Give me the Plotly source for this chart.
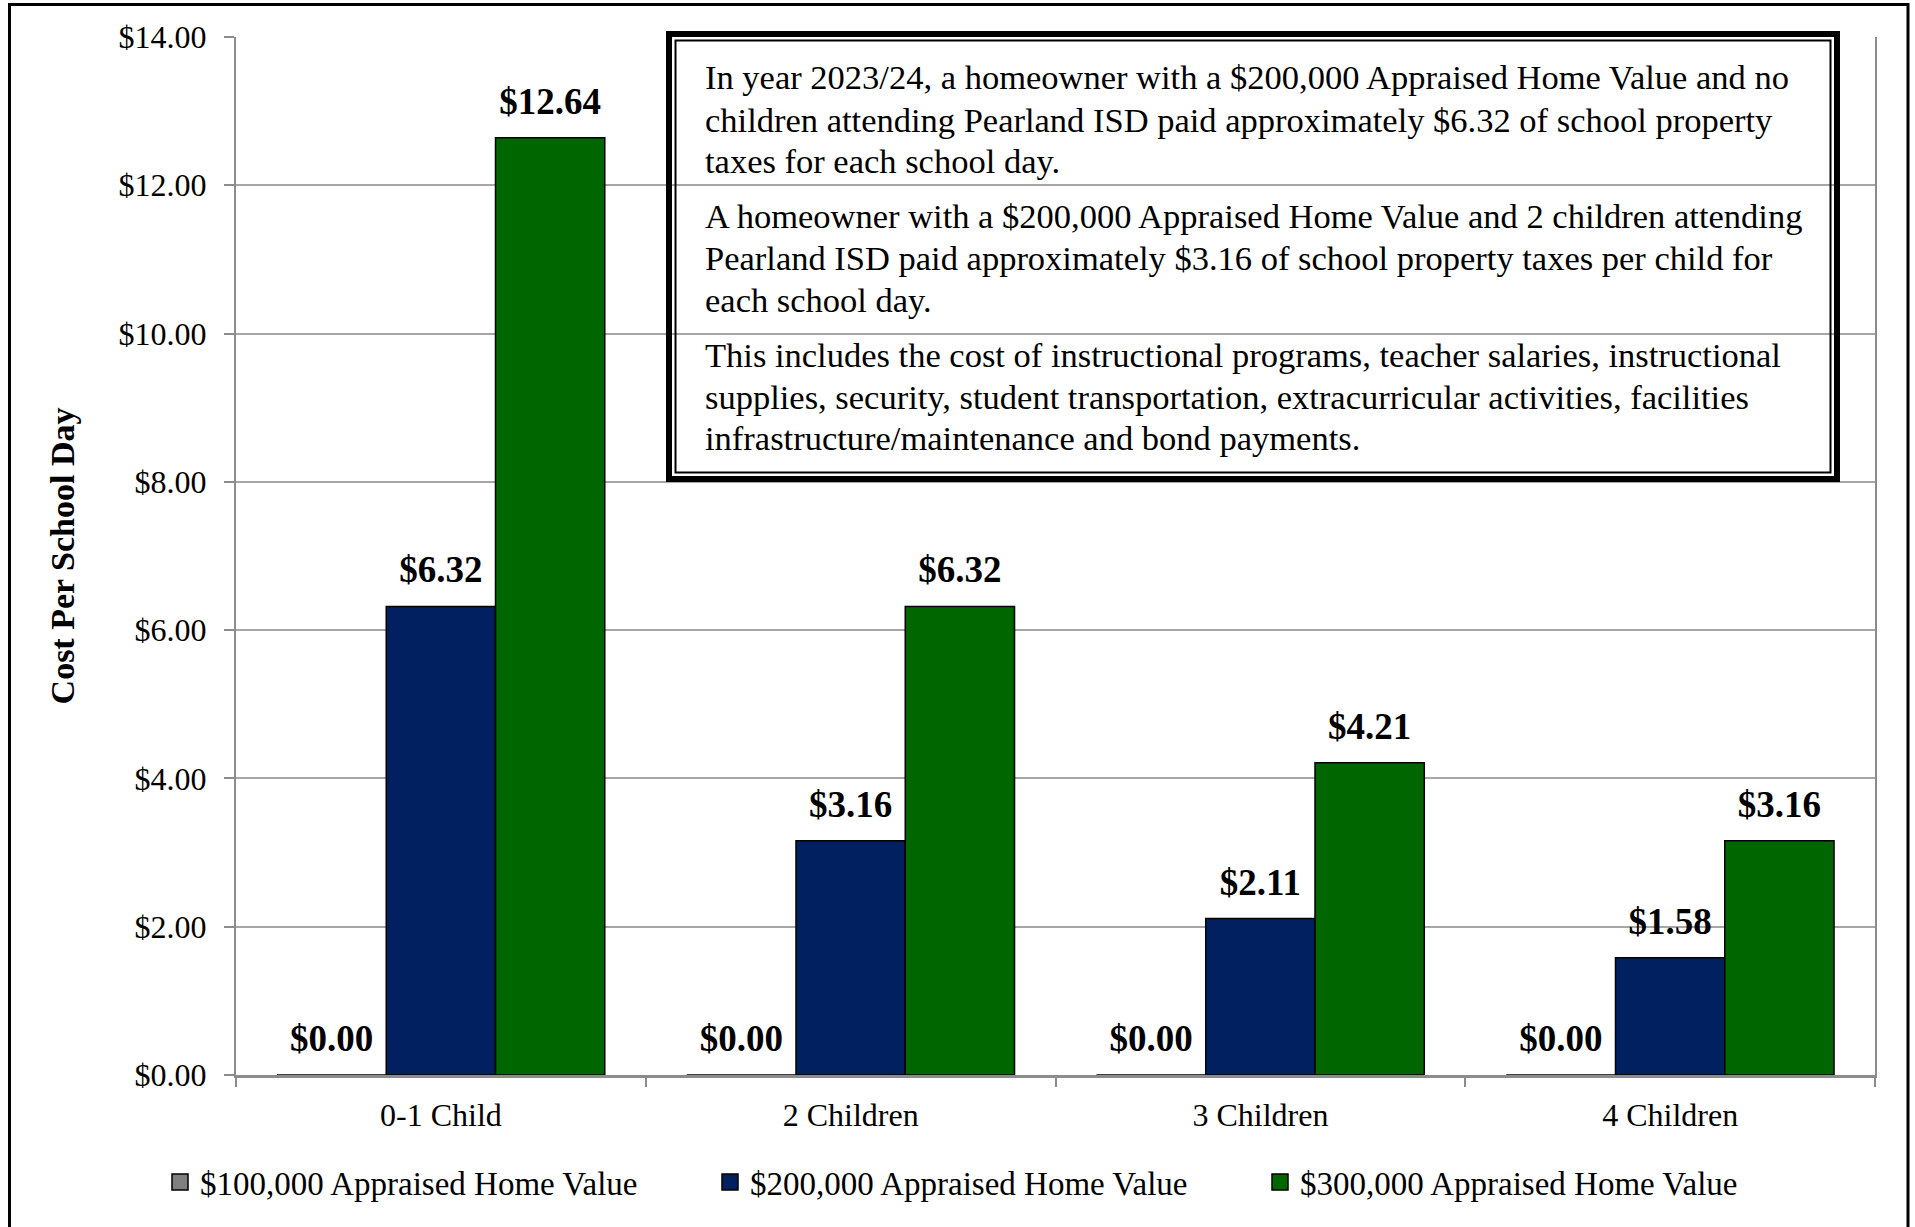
import plotly.graph_objects as go

categories = ["0-1 Child", "2 Children", "3 Children", "4 Children"]
series_names = ["$100,000 Appraised Home Value", "$200,000 Appraised Home Value", "$300,000 Appraised Home Value"]
values_100k = [0.00, 0.00, 0.00, 0.00]
values_200k = [6.32, 3.16, 2.11, 1.58]
values_300k = [12.64, 6.32, 4.21, 3.16]
series_colors = ["#808080", "#002060", "#006600"]
y_ticks = [0, 2, 4, 6, 8, 10, 12, 14]

box_lines = [
    "In year 2023/24, a homeowner with a $200,000 Appraised Home Value and no",
    "children attending Pearland ISD paid approximately $6.32 of school property",
    "taxes for each school day.",
    "A homeowner with a $200,000 Appraised Home Value and 2 children attending",
    "Pearland ISD paid approximately $3.16 of school property taxes per child for",
    "each school day.",
    "This includes the cost of instructional programs, teacher salaries, instructional",
    "supplies, security, student transportation, extracurricular activities, facilities",
    "infrastructure/maintenance and bond payments.",
]
box_line_y = [77, 120, 161, 216, 258, 300, 355, 397, 438]

W, H = 1915, 1227
L, R, T, B = 236, 1875, 37, 1075
FONT = "Liberation Serif"

def px(x):
    return (x - L) / (R - L)

def py(y):
    return (B - y) / (B - T)

fig = go.Figure()
all_vals = [values_100k, values_200k, values_300k]
for i, (name, vals, col) in enumerate(zip(series_names, all_vals, series_colors)):
    fig.add_trace(go.Bar(
        x=categories, y=vals, name=name, showlegend=False, offsetgroup=str(i),
        marker=dict(color=col, line=dict(color="#000000", width=1.5)),
        hoverinfo="skip",
    ))
for i, vals in enumerate(all_vals):
    fig.add_trace(go.Scatter(
        x=categories, y=vals, mode="markers+text", offsetgroup=str(i),
        text=["${:.2f}".format(v) for v in vals],
        textposition="top center",
        textfont=dict(family=FONT, size=37, color="#000000", weight="bold"),
        marker=dict(size=22, opacity=0),
        showlegend=False, hoverinfo="skip", cliponaxis=False,
    ))
# legend entries (square swatches)
for i, (name, col) in enumerate(zip(series_names, series_colors)):
    fig.add_trace(go.Scatter(
        x=[None], y=[None], mode="markers", name=name, offsetgroup=str(i),
        marker=dict(symbol="square", size=16, color=col, line=dict(color="#000000", width=1.5)),
        hoverinfo="skip",
    ))

shapes = [
    dict(type="rect", xref="paper", yref="paper", x0=px(9.5), x1=px(1908), y0=py(1240), y1=py(4.5),
         line=dict(color="#000000", width=3), layer="above"),
    dict(type="rect", xref="paper", yref="paper", x0=px(669), x1=px(1837), y0=py(479), y1=py(34),
         line=dict(color="#000000", width=6), layer="above"),
    dict(type="rect", xref="paper", yref="paper", x0=px(675.5), x1=px(1830.5), y0=py(472.5), y1=py(40.5),
         line=dict(color="#000000", width=2), layer="above"),
]

annotations = []
for line, ymid in zip(box_lines, box_line_y):
    annotations.append(dict(
        xref="paper", yref="paper", x=px(703), y=py(ymid), xanchor="left", yanchor="middle",
        text=line, showarrow=False, align="left",
        font=dict(family=FONT, size=34.5, color="#000000"),
    ))

fig.update_layout(
    width=W, height=H,
    margin=dict(l=L, r=W - R, t=T, b=H - B),
    paper_bgcolor="white", plot_bgcolor="white",
    barmode="group", bargap=0.2, bargroupgap=0,
    scattermode="group", scattergap=0.2,
    font=dict(family=FONT, size=32, color="#000000"),
    showlegend=True,
    legend=dict(orientation="h", x=px(160), xanchor="left", y=py(1182), yanchor="middle",
                font=dict(family=FONT, size=33, color="#000000"),
                entrywidth=505, entrywidthmode="pixels", bgcolor="rgba(0,0,0,0)"),
    shapes=shapes, annotations=annotations,
    yaxis=dict(range=[0, 14], tickvals=y_ticks, tickformat="$.2f",
               showgrid=True, gridcolor="#A6A6A6", gridwidth=1.5,
               showline=True, linecolor="#8C8C8C", linewidth=2, mirror=True,
               ticks="outside", ticklen=10, tickcolor="#8C8C8C", tickwidth=2,
               zeroline=False, ticklabelstandoff=11,
               tickfont=dict(family=FONT, size=32),
               title=dict(text="<b>Cost Per School Day</b>", font=dict(family=FONT, size=34), standoff=34)),
    xaxis=dict(showline=True, linecolor="#8C8C8C", linewidth=2.5, mirror=False,
               ticks="outside", tickson="boundaries", ticklen=9, tickcolor="#8C8C8C", tickwidth=1.5,
               showgrid=False, tickfont=dict(family=FONT, size=32), ticklabelstandoff=10),
)

fig.write_html("out.html", config={"displayModeBar": False},
               post_script="document.body.style.margin='0px';document.body.style.overflow='hidden';")
